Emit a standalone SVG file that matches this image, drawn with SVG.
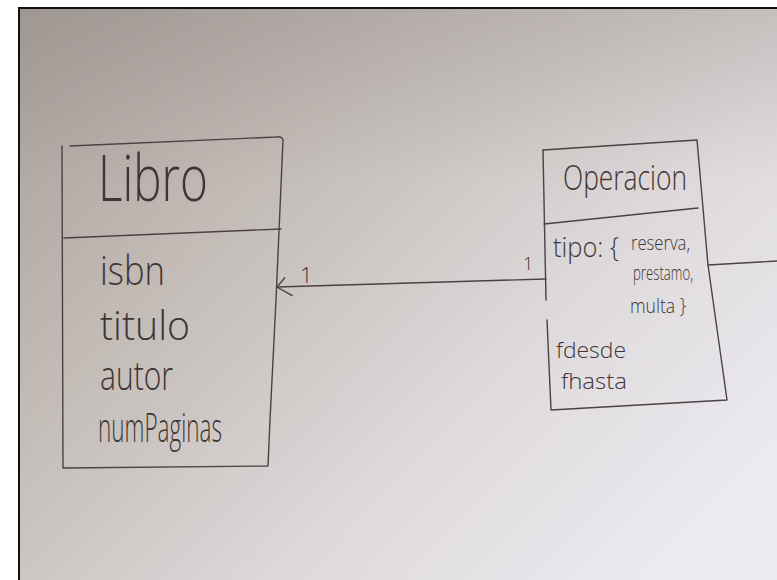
<svg xmlns="http://www.w3.org/2000/svg" width="777" height="580" viewBox="0 0 777 580">
  <defs>
    <linearGradient id="board" x1="0" y1="0" x2="1" y2="0.75">
      <stop offset="0" stop-color="#a69e99"/>
      <stop offset="0.35" stop-color="#c3bcb7"/>
      <stop offset="0.7" stop-color="#dedadb"/>
      <stop offset="1" stop-color="#eceaf1"/>
    </linearGradient>
    <linearGradient id="shade" x1="0" y1="0" x2="0" y2="1">
      <stop offset="0" stop-color="#8a807c" stop-opacity="0.25"/>
      <stop offset="0.3" stop-color="#8a807c" stop-opacity="0"/>
    </linearGradient>
    <marker id="open" markerWidth="22" markerHeight="22" refX="19" refY="10" orient="auto" markerUnits="userSpaceOnUse">
      <path d="M4,1 L19,10 L11,19" fill="none" stroke="#4b4242" stroke-width="1.4" stroke-linecap="round"/>
    </marker>
    <style>
      .ink{fill:none;stroke:#4b4242;stroke-width:1.4;stroke-linecap:round;stroke-linejoin:round}
      .t{font-family:"Open Sans","DejaVu Sans",sans-serif;font-weight:300;fill:#3f3535}
    </style>
  </defs>
  <rect x="0" y="0" width="777" height="580" fill="#ffffff"/>
  <rect x="19" y="8" width="770" height="585" fill="url(#board)"/>
  <rect x="19" y="8" width="770" height="585" fill="url(#shade)"/>
  <rect x="19" y="8" width="770" height="585" fill="none" stroke="#111" stroke-width="2"/>

  <g id="connectors">
    <path class="ink" d="M546,279 L277,287" marker-end="url(#open)"/>
    <text class="t" x="300" y="283" font-size="22">1</text>
    <text class="t" x="523" y="270" font-size="18">1</text>
    <path class="ink" d="M708,265 L777,261"/>
  </g>

  <g id="libro">
    <path class="ink" d="M62,146 L63,468 L268,466 L270,420 L276,300 L283,140 Q282,136 276,137 L70,146"/>
    <path class="ink" d="M64,238 L281,229"/>
    <text class="t" x="98" y="201" font-size="64" textLength="110" lengthAdjust="spacingAndGlyphs">Libro</text>
    <text class="t" x="100" y="285" font-size="40" textLength="65" lengthAdjust="spacingAndGlyphs">isbn</text>
    <text class="t" x="100" y="340" font-size="40" textLength="90" lengthAdjust="spacingAndGlyphs">titulo</text>
    <text class="t" x="100" y="390" font-size="40" textLength="73" lengthAdjust="spacingAndGlyphs">autor</text>
    <text class="t" x="98" y="442" font-size="40" textLength="124" lengthAdjust="spacingAndGlyphs">numPaginas</text>
  </g>

  <g id="operacion">
    <path class="ink" d="M543,150 L697,140 L708,265 L727,400 L551,410 L547,320"/>
    <path class="ink" d="M543,150 L546,300"/>
    <path class="ink" d="M544,224 L698,208"/>
    <text class="t" x="563" y="190" font-size="34" textLength="124" lengthAdjust="spacingAndGlyphs">Operacion</text>
    <text class="t" x="553" y="257" font-size="27" textLength="66" lengthAdjust="spacingAndGlyphs">tipo: {</text>
    <text class="t" x="631" y="250" font-size="20" textLength="59" lengthAdjust="spacingAndGlyphs">reserva,</text>
    <text class="t" x="633" y="280" font-size="20" textLength="60" lengthAdjust="spacingAndGlyphs">prestamo,</text>
    <text class="t" x="630" y="313" font-size="20" textLength="56" lengthAdjust="spacingAndGlyphs">multa }</text>
    <text class="t" x="556" y="358" font-size="22" textLength="70" lengthAdjust="spacingAndGlyphs">fdesde</text>
    <text class="t" x="561" y="389" font-size="22" textLength="66" lengthAdjust="spacingAndGlyphs">fhasta</text>
  </g>
</svg>
